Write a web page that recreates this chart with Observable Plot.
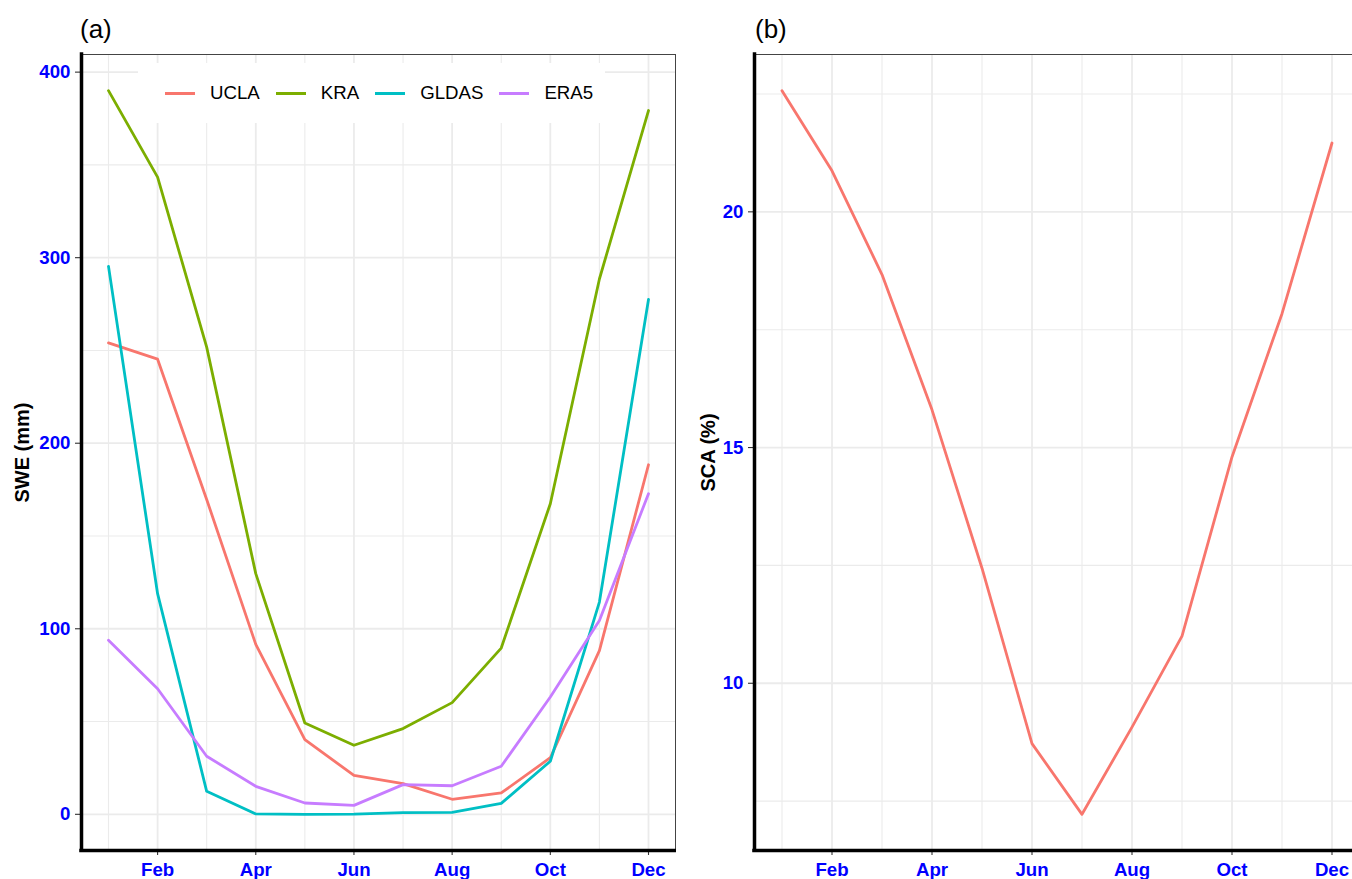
<!DOCTYPE html>
<html>
<head>
<meta charset="utf-8">
<script src="https://cdn.jsdelivr.net/npm/d3@7"></script>
<script src="https://cdn.jsdelivr.net/npm/@observablehq/plot@0.6"></script>
<style>
html, body { margin: 0; padding: 0; background: #fff; }
body { width: 1352px; height: 879px; overflow: hidden; position: relative; font-family: "Liberation Sans", Arial, sans-serif; }
.panel { position: absolute; top: 0; }
.panel svg { max-width: none !important; }
.title { position: absolute; font-size: 26px; line-height: 26px; color: #000; }
.legend { position: absolute; background: #fff; display: flex; align-items: center; box-sizing: border-box; font-size: 18.67px; color: #000; }
.legend .key { display: inline-block; width: 30px; height: 3px; margin-right: 15px; }
.legend .item { display: flex; align-items: center; margin-right: 16px; }
</style>
</head>
<body>
<div id="a" class="panel" style="left:0px;width:676px"></div>
<div id="b" class="panel" style="left:676px;width:683px"></div>
<div class="title" style="left:80px;top:16px">(a)</div>
<div class="title" style="left:755px;top:16px">(b)</div>
<div class="legend" id="legend" style="left:138px;top:63px;width:467px;height:60px;padding-left:27px"></div>
<script>
// ---- data ----
const monthLabels = ["Jan","Feb","Mar","Apr","May","Jun","Jul","Aug","Sep","Oct","Nov","Dec"];
const monthNums = [1,2,3,4,5,6,7,8,9,10,11,12];
const majorMonths = [2,4,6,8,10,12];

const seriesNames = ["UCLA","KRA","GLDAS","ERA5"];
const seriesColors = ["#F8766D","#7CAE00","#00BFC4","#C77CFF"];

const ucla  = [254.1, 245.3, 169.7, 91.6, 40.2, 21.0, 16.5, 8.1, 11.5, 30.5, 88.2, 188.4];
const kra   = [390.0, 343.4, 251.8, 129.7, 49.2, 37.2, 46.2, 60.2, 89.6, 167.4, 288.5, 379.3];
const gldas = [295.3, 118.9, 12.4, 0.2, 0.0, 0.1, 0.9, 1.1, 5.9, 28.6, 114.4, 277.5];
const era5  = [93.8, 67.7, 31.3, 15.1, 6.1, 4.8, 16.0, 15.4, 25.9, 63.2, 104.5, 172.8];

const sca = [22.57, 20.87, 18.67, 15.8, 12.44, 8.72, 7.22, 9.07, 11.0, 14.8, 17.84, 21.46];

const sweMajor = [0, 100, 200, 300, 400];
const sweMinor = [50, 150, 250, 350];
const scaMajor = [10, 15, 20];
const scaMinor = [7.5, 12.5, 17.5, 22.5];

const sweTitle = "SWE (mm)";
const scaTitle = "SCA (%)";

// ---- helpers ----
const seriesValues = [ucla, kra, gldas, era5];
const tidyA = [];
seriesNames.forEach((s, i) => monthNums.forEach((m, j) => tidyA.push({series: s, month: m, value: seriesValues[i][j]})));
const tidyB = monthNums.map((m, j) => ({month: m, value: sca[j]}));

function expand([lo, hi]) { const r = hi - lo; return [lo - 0.05 * r, hi + 0.05 * r]; }
const xDomain = expand(d3.extent(monthNums));
const minorMonths = monthNums.filter(m => !majorMonths.includes(m));
const yA = expand(d3.extent(tidyA, d => d.value));
const yB = expand(d3.extent(sca));

const FONT = '"Liberation Sans", Arial, sans-serif';
const GRID = "#EBEBEB";

function panel({data, yDomain, major, minor, width, marginLeft, marginRight, lineOpts, title, titleDx}) {
  return Plot.plot({
    width, height: 879,
    marginLeft, marginRight, marginTop: 54, marginBottom: 29,
    x: {domain: xDomain, label: null},
    y: {domain: yDomain, label: null},
    color: {domain: seriesNames, range: seriesColors},
    style: {fontFamily: FONT, fontSize: "18.67px", fontWeight: "bold", background: "white", overflow: "visible", maxWidth: "none"},
    marks: [
      Plot.ruleX(minorMonths, {stroke: GRID, strokeWidth: 1.1}),
      Plot.ruleX(majorMonths, {stroke: GRID, strokeWidth: 1.8}),
      Plot.ruleY(minor, {stroke: GRID, strokeWidth: 1.1}),
      Plot.ruleY(major, {stroke: GRID, strokeWidth: 1.8}),
      Plot.frame({stroke: "#444", strokeWidth: 1}),
      Plot.line(data, lineOpts),
      Plot.axisX({ticks: majorMonths, tickFormat: d => monthLabels[d - 1], tickSize: 5, tickPadding: 7, stroke: "#333", fill: "#0000FF", strokeWidth: 1.1, label: null}),
      Plot.axisY({ticks: major, tickFormat: d => String(d), tickSize: 6, tickPadding: 5, stroke: "#333", fill: "#0000FF", strokeWidth: 1.1, label: null}),
      Plot.ruleX([xDomain[0]], {stroke: "black", strokeWidth: 3.5, strokeLinecap: "square"}),
      Plot.ruleY([yDomain[0]], {stroke: "black", strokeWidth: 3.5, strokeLinecap: "square"}),
      Plot.text([title], {text: d => d, frameAnchor: "left", rotate: -90, dx: titleDx, fontSize: 20, fontWeight: "bold", fill: "black", textAnchor: "middle"})
    ]
  });
}

document.getElementById("a").appendChild(panel({
  data: tidyA, yDomain: yA, major: sweMajor, minor: sweMinor,
  width: 676, marginLeft: 81, marginRight: 1,
  lineOpts: {x: "month", y: "value", z: "series", stroke: "series", strokeWidth: 2.8},
  title: sweTitle, titleDx: -59
}));

document.getElementById("b").appendChild(panel({
  data: tidyB, yDomain: yB, major: scaMajor, minor: scaMinor,
  width: 683, marginLeft: 78, marginRight: 0,
  lineOpts: {x: "month", y: "value", stroke: seriesColors[0], strokeWidth: 2.8},
  title: scaTitle, titleDx: -46
}));

// legend
const lg = document.getElementById("legend");
seriesNames.forEach((s, i) => {
  const item = document.createElement("div");
  item.className = "item";
  const key = document.createElement("span");
  key.className = "key";
  key.style.background = seriesColors[i];
  const lab = document.createElement("span");
  lab.textContent = s;
  item.appendChild(key);
  item.appendChild(lab);
  lg.appendChild(item);
});
</script>
</body>
</html>
